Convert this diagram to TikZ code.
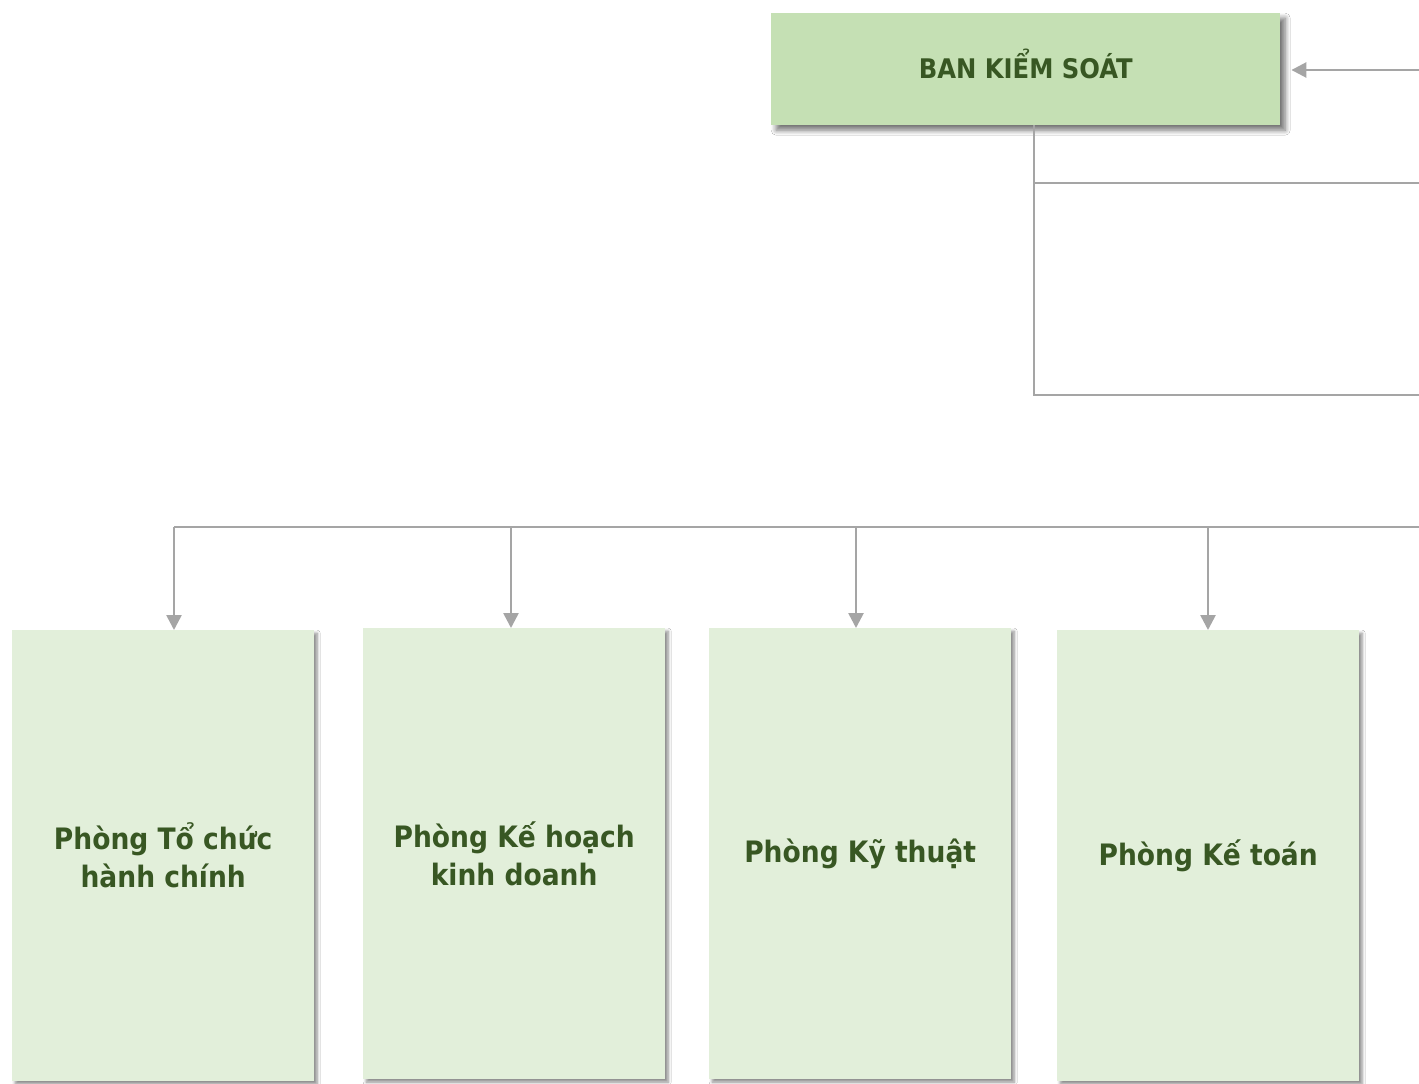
\documentclass[tikz,border=0pt]{standalone}
\usepackage{fontspec}
\setmainfont{DejaVu Sans Condensed}
\usetikzlibrary{arrows.meta,shadows.blur,calc}
\definecolor{txtgreen}{HTML}{385723}
\definecolor{topfill}{HTML}{C5E0B4}
\definecolor{boxfill}{HTML}{E2EFDA}
\definecolor{linegray}{HTML}{A5A5A5}
\begin{document}
\begin{tikzpicture}[x=1pt,y=1pt,
  topbox/.style={fill=topfill, draw=none, anchor=north west, inner sep=0pt,
    minimum width=509pt, minimum height=112pt, text height=19.5pt, text depth=0pt,
    font=\fontsize{27}{32}\selectfont\bfseries, text=txtgreen,
    blur shadow={shadow xshift=5pt, shadow yshift=-5pt, shadow blur radius=5pt, shadow blur steps=8, shadow opacity=55}},
  deptbox/.style={fill=boxfill, draw=none, anchor=north west, inner sep=0pt,
    minimum width=302pt, minimum height=451pt, align=center,
    font=\fontsize{29.5}{38}\selectfont\bfseries, text=txtgreen,
    blur shadow={shadow xshift=3pt, shadow yshift=-3pt, shadow blur radius=3pt, shadow blur steps=6, shadow opacity=45}},
  ln/.style={draw=linegray, line width=2.6pt},
  arr/.style={ln, -{Triangle[width=15pt,length=15pt]}, fill=linegray}
]
\useasboundingbox (0,0) rectangle (1419,-1084);
\fill[white] (0,0) rectangle (1419,-1084);

% top box
\node[topbox] (k) at (771,-13) {BAN KIỂM SOÁT};

% departments
\node[deptbox] (b1) at (12,-630) {Phòng Tổ chức\\hành chính};
\node[deptbox] (b2) at (363,-628) {Phòng Kế hoạch\\kinh doanh};
\node[deptbox] (b3) at (709,-628) {Phòng Kỹ thuật};
\node[deptbox] (b4) at (1057,-630) {Phòng Kế toán};

% right-side connectors near top box
\coordinate (r0) at (1419,-70);
\draw[arr] (r0) -- ([xshift=11pt]k.east |- r0);
\coordinate (v0) at (1034,-125);
\coordinate (e1) at (1419,-183);
\coordinate (e2) at (1419,-395);
\draw[ln] (v0) |- (e2);
\draw[ln] (e1) -- (e1 -| v0);

% bus
\coordinate (bR) at (1419,-527);
\coordinate (x1) at (174,-527);
\coordinate (x2) at (511,-527);
\coordinate (x3) at (856,-527);
\coordinate (x4) at (1208,-527);
\draw[ln] (bR) -- (x1);
\draw[arr] (x1) -- (x1 |- b1.north);
\draw[arr] (x2) -- (x2 |- b2.north);
\draw[arr] (x3) -- (x3 |- b3.north);
\draw[arr] (x4) -- (x4 |- b4.north);
\end{tikzpicture}
\end{document}
